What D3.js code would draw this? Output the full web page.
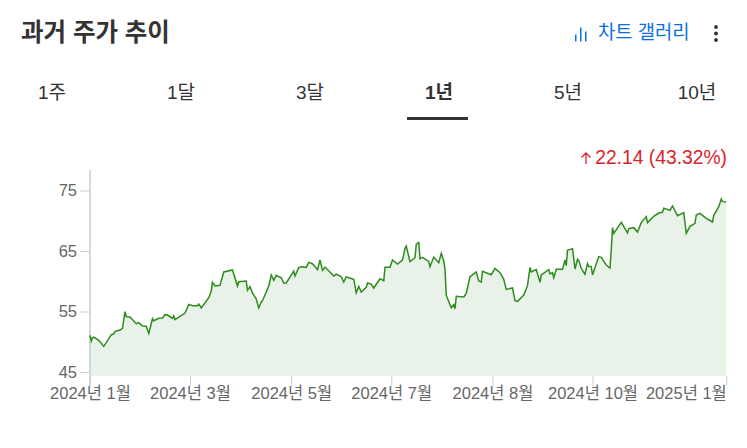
<!DOCTYPE html>
<html>
<head>
<meta charset="utf-8">
<script src="https://cdnjs.cloudflare.com/ajax/libs/d3/7.8.5/d3.min.js"></script>
<style>
  html, body { margin: 0; padding: 0; background: #fff; }
  text { font-family: "Liberation Sans", "Noto Sans CJK KR", sans-serif; }
</style>
</head>
<body>
<svg id="chart" width="747" height="448"></svg>
<script>
const rangeTabs = ['1주', '1달', '3달', '1년', '5년', '10년'];
const activeTab = '1년';
const yTicks = [45, 55, 65, 75];
const tickSessions = [0, 40, 80.5, 120.5, 161, 201, 254.5];
const tickLabels = ['2024년 1월', '2024년 3월', '2024년 5월', '2024년 7월', '2024년 8월', '2024년 10월', '2025년 1월'];

// sessions since the first bar
const sessions = [0,.5,1,1.5,3,4,5.5,6.5,8.5,9.5,10,12,13,14,14.5,16,18.5,19.5,21,22.5,23.5,25,25.5,27.5,29,30,31,33,33.5,34,36,38,39.5,41,43,43.5,44.5,47.5,48.5,49,50,52,53.5,57,59,59.5,62.5,63,64,65,66.5,67.5,68.5,69,71.5,72.5,73.5,74.5,76,
  76.5,77.5,78.5,81.5,82,83.5,84.5,86.5,87.5,89,91,92,93,94,97.5,98.5,100.5,101.5,102.5,105.5,106.5,107.5,108.5,110.5,111,112.5,113.5,116,117.5,118,120,121,123,125,126,126.5,128,130,130.5,131.5,132,133,135.5,136,137.5,139.5,140.5,141.5,142,142.5,144.5,145.5,146,146.5,149.5,150.5,152,154.5,155.5,156.5,157,160.5,162,164,165.5,166.5,168,
  169,170,171,173.5,175,176,176.5,178.5,180,180.5,183.5,184,185,185.5,186.5,189,190,190.5,191,193,194,195,195.5,196.5,198,199,199.5,200.5,201,203.5,204.5,206.5,208,208.5,209,209.5,212.5,215,215.5,217.5,219,220.5,222.5,223,225.5,227.5,229,229.5,232,233,235,237.5,238.5,240,242,242.5,244,246.5,249,249.5,251.5,252.5,253,254.5];
const closes = [51.06,50.12,50.67,50.78,50.4,50.01,49.24,49.85,51.17,51.28,51.72,51.94,52.22,54.97,54.14,54.09,52.99,53.15,52.6,52.55,51.39,53.81,53.48,53.87,53.92,54.48,54.42,53.87,54.26,53.65,54.2,54.75,56.18,55.96,55.96,56.24,55.58,57.29,58.39,59.82,59.21,59.32,61.53,61.86,59.21,59.93,60.04,58.5,59.1,58.06,57.06,55.58,56.57,56.79,59.21,61.03,60.15,60.98,60.65,
  60.59,59.71,59.71,61.69,60.86,62.24,62.41,62.3,63.12,62.9,61.91,63.51,61.8,62.35,60.86,61.19,60.75,59.87,60.7,60.31,58.11,59.16,58.22,58.99,59.71,59.54,58.88,60.42,60.09,62.3,62.3,63.51,62.85,63.51,65.44,65.82,63.23,63.89,66.1,66.43,63.73,63.95,63.29,62.41,64,63.07,64.61,63.34,61.97,57.67,55.63,56.13,55.46,57.5,57.39,58,60.75,61.52,60.04,59.87,61.63,61.08,62.13,61.41,60.31,58.66,58.82,
  58.89,56.79,56.68,57.73,59.27,62.3,61.53,61.92,59.82,61.04,61.92,61.2,61.42,60.6,61.97,61.97,63.52,62.58,65.11,65.39,62.03,63.63,63.41,62.14,61.15,62.91,62.47,62.41,61.04,64.07,63.96,62.69,62.19,65.17,68.86,67.92,69.74,67.98,68.7,68.86,68.14,69.69,70.68,69.69,70.73,71.28,71.39,72.06,71.72,72.44,70.84,71.34,67.92,69.08,69.58,70.95,71.23,70.4,69.8,70.9,72.33,73.6,73.16,73.1];

const svg = d3.select('#chart');
const plot = {left: 90, right: 726.25, top: 170, bottom: 376};

// header
svg.append('text').attr('x', 21).attr('y', 41)
    .attr('font-size', 24.5).attr('font-weight', 700).attr('fill', '#333')
    .text('과거 주가 추이');
svg.append('text').attr('x', 598).attr('y', 39)
    .attr('font-size', 18.8).attr('fill', '#0a6fe0')
    .text('차트 갤러리');

const barIcon = [[575, 7], [580, 14], [585, 10]];
svg.selectAll('.icon-bar').data(barIcon).enter().append('rect')
    .attr('class', 'icon-bar')
    .attr('x', d => d[0]).attr('y', d => 41.5 - d[1])
    .attr('width', 1.5).attr('height', d => d[1])
    .attr('fill', '#0a6fe0');
svg.selectAll('.menu-dot').data([27, 33.5, 40]).enter().append('circle')
    .attr('class', 'menu-dot')
    .attr('cx', 716).attr('cy', d => d).attr('r', 1.9)
    .attr('fill', '#333');

// period tabs
const tabX = d3.scalePoint().domain(rangeTabs).range([52, 697]);
svg.selectAll('.tab').data(rangeTabs).enter().append('text')
    .attr('class', 'tab')
    .attr('x', d => tabX(d)).attr('y', 99)
    .attr('text-anchor', 'middle')
    .attr('font-size', 19)
    .attr('font-weight', d => d === activeTab ? 700 : 400)
    .attr('fill', '#333')
    .text(d => d);
svg.append('rect').attr('x', 407).attr('y', 117).attr('width', 61).attr('height', 3).attr('fill', '#333');

// change label
svg.append('text').attr('x', 727).attr('y', 164)
    .attr('text-anchor', 'end')
    .attr('font-size', 19.3).attr('fill', '#d8232a')
    .text('22.14 (43.32%)');
svg.append('path')
    .attr('d', 'M586 164V153M581.5 157.5L586 153L590.5 157.5')
    .attr('fill', 'none').attr('stroke', '#d8232a').attr('stroke-width', 1.3);

// scales
const x = d3.scaleLinear().domain([0, 254.5]).range([plot.left, plot.right]);
const y = d3.scaleLinear().domain([45, 75]).range([372, 190.5]);

const series = sessions.map((s, i) => ({s: s, v: closes[i]}));

svg.append('path')
    .datum(series)
    .attr('fill', '#e8f2e8')
    .attr('d', d3.area().x(d => x(d.s)).y0(plot.bottom).y1(d => y(d.v)));

// axes
const yAxis = d3.axisLeft(y).tickValues(yTicks).tickSize(10).tickPadding(3);
const gy = svg.append('g').attr('transform', 'translate(' + plot.left + ',0)').call(yAxis);
gy.select('.domain').remove();
gy.selectAll('.tick line').attr('x1', 0).attr('x2', -10).attr('stroke', '#ccc');
gy.selectAll('.tick text').attr('font-size', 16.5).attr('fill', '#666');
svg.append('line')
    .attr('x1', plot.left).attr('x2', plot.left)
    .attr('y1', plot.top).attr('y2', plot.bottom + 10)
    .attr('stroke', '#ccc').attr('stroke-width', 1.5);

const xAxis = d3.axisBottom(x).tickValues(tickSessions)
    .tickFormat((d, i) => tickLabels[i]).tickSize(10).tickPadding(1);
const gx = svg.append('g').attr('transform', 'translate(0,' + plot.bottom + ')').call(xAxis);
gx.select('.domain').remove();
gx.selectAll('.tick line').attr('stroke', '#ccc');
gx.selectAll('.tick text').attr('font-size', 16.5).attr('fill', '#666')
    .attr('text-anchor', (d, i) => i === tickSessions.length - 1 ? 'end' : 'middle');

svg.append('path')
    .datum(series)
    .attr('fill', 'none')
    .attr('stroke', '#2e8b1e')
    .attr('stroke-width', 1.5)
    .attr('d', d3.line().x(d => x(d.s)).y(d => y(d.v)));
</script>
</body>
</html>
